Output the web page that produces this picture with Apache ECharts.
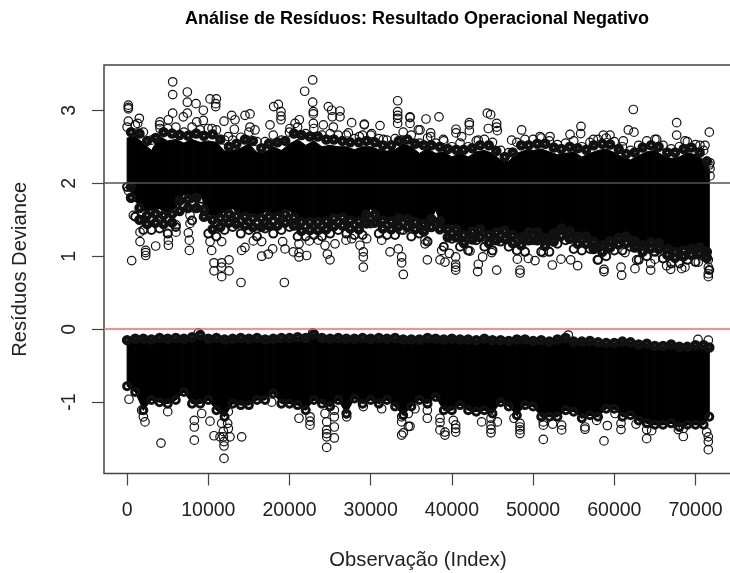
<!DOCTYPE html>
<html>
<head>
<meta charset="utf-8">
<title>Análise de Resíduos</title>
<script src="https://cdn.jsdelivr.net/npm/echarts@6/dist/echarts.min.js"></script>
<style>
html,body{margin:0;padding:0;background:#fff}
#chart{width:730px;height:573px}
</style>
</head>
<body>
<div id="chart"></div>
<script>
var xTicks = [0,10000,20000,30000,40000,50000,60000,70000];
var yTicks = [-1,0,1,2,3];

var bandX = [0,1000,2000,3000,4000,5000,6000,7000,8000,9000,10000,11000,12000,13000,14000,15000,16000,17000,18000,19000,20000,21000,22000,23000,24000,25000,26000,27000,28000,29000,30000,31000,32000,33000,34000,35000,36000,37000,38000,39000,40000,41000,42000,43000,44000,45000,46000,47000,48000,49000,50000,51000,52000,53000,54000,55000,56000,57000,58000,59000,60000,61000,62000,63000,64000,65000,66000,67000,68000,69000,70000,71000,71700];
var upperTop = [2.77,2.80,2.70,2.59,2.80,2.75,2.77,2.70,2.77,2.73,2.75,2.73,2.59,2.59,2.63,2.70,2.57,2.57,2.66,2.59,2.70,2.77,2.68,2.75,2.66,2.68,2.66,2.66,2.61,2.66,2.66,2.61,2.59,2.61,2.70,2.66,2.55,2.62,2.55,2.58,2.50,2.55,2.50,2.58,2.60,2.56,2.45,2.42,2.56,2.60,2.60,2.62,2.58,2.53,2.55,2.58,2.50,2.56,2.60,2.62,2.57,2.50,2.45,2.52,2.58,2.60,2.52,2.47,2.50,2.57,2.53,2.45,2.25];
var upperCoreTop = [2.62,2.64,2.55,2.45,2.64,2.58,2.60,2.55,2.60,2.56,2.58,2.56,2.44,2.45,2.48,2.54,2.42,2.43,2.50,2.45,2.54,2.60,2.52,2.58,2.50,2.52,2.50,2.50,2.46,2.50,2.50,2.46,2.44,2.46,2.54,2.50,2.41,2.47,2.41,2.43,2.36,2.41,2.36,2.43,2.45,2.41,2.32,2.30,2.41,2.45,2.45,2.47,2.43,2.39,2.41,2.43,2.36,2.41,2.45,2.47,2.42,2.36,2.32,2.38,2.43,2.45,2.38,2.34,2.36,2.42,2.39,2.32,2.20];
var upperCoreBottom = [2.00,1.75,1.63,1.63,1.65,1.57,1.67,1.85,1.73,1.85,1.57,1.53,1.61,1.65,1.55,1.59,1.51,1.61,1.55,1.59,1.63,1.50,1.50,1.51,1.49,1.53,1.57,1.52,1.50,1.50,1.65,1.51,1.49,1.49,1.55,1.47,1.50,1.40,1.63,1.33,1.43,1.33,1.28,1.41,1.33,1.28,1.39,1.32,1.27,1.25,1.39,1.24,1.24,1.35,1.39,1.28,1.25,1.27,1.13,1.17,1.25,1.25,1.29,1.12,1.16,1.22,1.13,1.07,1.07,1.11,1.08,1.15,0.95];
var upperBottom = [1.95,1.54,1.36,1.36,1.38,1.31,1.40,1.68,1.49,1.68,1.31,1.27,1.36,1.40,1.31,1.36,1.27,1.38,1.31,1.36,1.40,1.27,1.27,1.29,1.27,1.31,1.36,1.31,1.29,1.29,1.45,1.31,1.29,1.29,1.36,1.27,1.31,1.20,1.45,1.13,1.24,1.13,1.08,1.22,1.13,1.08,1.20,1.13,1.08,1.06,1.22,1.06,1.06,1.17,1.22,1.10,1.08,1.10,0.95,1.00,1.08,1.08,1.13,0.95,1.00,1.06,0.97,0.90,0.90,0.95,0.92,1.00,0.81];
var lowerTop = [-0.15,-0.13,-0.13,-0.14,-0.12,-0.13,-0.12,-0.13,-0.11,-0.08,-0.13,-0.12,-0.14,-0.13,-0.12,-0.13,-0.12,-0.14,-0.13,-0.12,-0.12,-0.11,-0.12,-0.07,-0.12,-0.13,-0.12,-0.13,-0.13,-0.12,-0.13,-0.12,-0.13,-0.12,-0.14,-0.14,-0.14,-0.12,-0.13,-0.14,-0.13,-0.14,-0.14,-0.15,-0.13,-0.15,-0.15,-0.16,-0.14,-0.14,-0.16,-0.15,-0.17,-0.14,-0.12,-0.17,-0.17,-0.16,-0.18,-0.19,-0.19,-0.17,-0.18,-0.21,-0.20,-0.23,-0.23,-0.21,-0.24,-0.24,-0.22,-0.22,-0.25];
var lowerBottom = [-0.78,-0.86,-1.11,-0.97,-1.00,-1.02,-0.97,-0.86,-1.02,-1.02,-0.97,-1.11,-1.20,-1.02,-1.04,-1.04,-0.97,-0.97,-0.88,-1.02,-1.02,-1.04,-1.11,-0.97,-1.02,-1.06,-0.97,-1.155,-0.95,-1.02,-0.97,-1.02,-0.97,-1.06,-1.18,-1.06,-0.97,-1.02,-0.93,-1.11,-1.11,-1.04,-1.11,-1.13,-1.11,-1.155,-1.00,-1.06,-1.18,-1.04,-1.06,-1.20,-1.20,-1.20,-1.11,-1.13,-1.22,-1.18,-1.20,-1.09,-1.09,-1.20,-1.18,-1.25,-1.29,-1.31,-1.31,-1.29,-1.34,-1.31,-1.31,-1.31,-1.20];

// half-open fringe between the solid core and the edge rings
var fringeX = [480,1530,2460,3520,4490,5540,6470,7510,8520,9460,10530,11480,12540,13470,14510,15490,16530,17460,18520,19480,20540,21470,22510,23490,24530,25460,26520,27480,28540,29470,30510,31490,32530,33460,34520,35480,36540,37470,38510,39490,40530,41460,42520,43480,44540,45470,46510,47490,48530,49460,50520,51480,52540,53470,54510,55490,56530,57460,58520,59480,60540,61470,62510,63490,64530,65460,66520,67480,68540,69470,70510,71400];
var fringeTop = [2.70,2.68,2.58,2.62,2.70,2.68,2.66,2.65,2.68,2.65,2.67,2.60,2.50,2.54,2.60,2.58,2.48,2.54,2.56,2.58,2.68,2.66,2.64,2.64,2.60,2.60,2.58,2.56,2.56,2.58,2.56,2.52,2.52,2.58,2.60,2.54,2.52,2.52,2.50,2.47,2.46,2.46,2.48,2.52,2.52,2.44,2.36,2.42,2.52,2.52,2.54,2.54,2.49,2.47,2.50,2.48,2.46,2.52,2.54,2.53,2.47,2.40,2.42,2.49,2.52,2.50,2.42,2.42,2.47,2.49,2.42,2.30];
var fringeLowA = [1.80,1.50,1.44,1.46,1.44,1.46,1.62,1.66,1.66,1.54,1.37,1.40,1.46,1.44,1.42,1.40,1.40,1.42,1.42,1.46,1.42,1.35,1.36,1.36,1.37,1.41,1.42,1.38,1.37,1.45,1.46,1.38,1.37,1.41,1.40,1.37,1.34,1.40,1.37,1.26,1.26,1.18,1.23,1.26,1.18,1.22,1.24,1.18,1.15,1.22,1.22,1.14,1.20,1.28,1.24,1.17,1.17,1.10,1.06,1.12,1.16,1.18,1.12,1.06,1.11,1.10,1.02,0.98,1.00,1.02,1.04,0.98];
var fringeLowB = [1.95,1.66,1.56,1.58,1.56,1.58,1.76,1.78,1.80,1.64,1.50,1.52,1.58,1.55,1.54,1.52,1.52,1.54,1.54,1.58,1.53,1.47,1.47,1.47,1.48,1.52,1.53,1.49,1.48,1.57,1.57,1.49,1.48,1.52,1.51,1.47,1.44,1.51,1.48,1.37,1.37,1.29,1.34,1.37,1.29,1.33,1.35,1.29,1.26,1.33,1.33,1.25,1.31,1.38,1.34,1.27,1.27,1.20,1.15,1.21,1.25,1.27,1.21,1.15,1.19,1.18,1.10,1.06,1.08,1.10,1.12,1.06];

// single circles that stand clear of the band
var upperHigh = [[5612,3.39],[5612,3.215],[7418,3.25],[7418,3.11],[8485,3.09],[10210,3.155],[10990,3.155],[10907,3.05],[10907,3.09],[9389,3.0],[152,3.07],[152,3.04],[152,3.02],[22853,3.415],[21867,3.26],[22853,3.11],[18625,3.08],[18050,3.05],[24782,3.05],[25193,3.0],[26219,2.99],[26219,2.91],[33320,3.13],[33320,2.98],[33320,2.93],[33320,2.89],[33320,2.82],[34840,2.9],[34840,2.82],[27656,2.83],[29216,2.81],[29216,2.8],[31145,2.79],[25275,2.91],[22935,2.98],[22935,2.95],[22935,2.82],[18953,2.98],[18953,2.92],[18953,2.87],[15135,2.95],[14520,2.93],[15135,2.77],[15750,2.73],[12878,2.93],[13288,2.87],[11934,2.85],[13206,2.74],[7418,2.96],[6925,2.91],[5612,2.96],[5078,2.87],[1507,2.89],[152,2.85],[1302,2.82],[4052,2.84],[4052,2.75],[8568,2.84],[9389,2.86],[10456,2.75],[12467,2.64],[17598,2.8],[21211,2.87],[20677,2.82],[20062,2.75],[24166,2.8],[25398,2.77],[27245,2.69],[30119,2.68],[28600,2.64],[31555,2.6],[33813,2.59],[35865,2.73],[38410,2.91],[36809,2.88],[34839,2.91],[36070,2.73],[37384,2.69],[37384,2.64],[38944,2.6],[42146,2.83],[42146,2.72],[42146,2.8],[40504,2.74],[40504,2.69],[41202,2.64],[44363,2.96],[44773,2.94],[44486,2.75],[45512,2.82],[45594,2.72],[45512,2.77],[43254,2.59],[47360,2.59],[48591,2.73],[50849,2.64],[52080,2.64],[54543,2.67],[55898,2.78],[55857,2.68],[57417,2.6],[58648,2.66],[59469,2.66],[61728,2.73],[62425,2.7],[62343,3.01],[61110,2.58],[65216,2.6],[67679,2.83],[67679,2.66],[68705,2.58],[70553,2.52],[71169,2.52],[71702,2.7],[71784,2.28],[71784,2.2],[71784,2.1]];
var upperLow = [[563,0.94],[2287,1.01],[2287,1.05],[2287,1.08],[1589,1.2],[3518,1.14],[5078,1.15],[5078,1.22],[7664,1.08],[7664,1.22],[7541,1.32],[6022,1.33],[6022,1.43],[1589,1.33],[768,1.56],[152,1.9],[7747,1.45],[7747,1.56],[10415,1.08],[11647,1.2],[10210,1.2],[10702,0.91],[10702,0.8],[11647,0.91],[11647,0.85],[12550,0.95],[12550,0.8],[11647,0.72],[14108,1.08],[14520,1.12],[14026,0.64],[19364,0.64],[16572,1.0],[17393,1.03],[17927,1.1],[15546,1.21],[16572,1.2],[19158,1.2],[19446,1.1],[20472,1.06],[21170,0.99],[22114,1.01],[21170,1.17],[21170,1.05],[22443,1.21],[23550,1.22],[24987,0.95],[24660,1.03],[24372,1.15],[25603,1.17],[26958,1.22],[27656,1.24],[29092,0.85],[29092,0.99],[29092,1.06],[28682,1.15],[29503,1.24],[32377,1.06],[31350,1.22],[33813,0.99],[33402,1.1],[33813,0.91],[34019,0.75],[33608,1.36],[36974,0.95],[36686,1.17],[36686,1.22],[38533,0.95],[39149,0.92],[38739,1.08],[39683,1.04],[40463,0.99],[40463,0.89],[40463,0.81],[40463,0.85],[43254,0.89],[43172,0.79],[43788,0.99],[42228,1.07],[45512,0.81],[44897,1.05],[48057,0.96],[49412,0.97],[50233,0.94],[48386,0.81],[48386,0.77],[52367,0.88],[53435,0.96],[54625,0.95],[55487,0.87],[51259,1.05],[57909,0.95],[58730,0.82],[58730,0.79],[60824,0.85],[60906,0.74],[61317,1.05],[62548,0.83],[62754,0.95],[64478,0.81],[64478,0.9],[65011,0.96],[66448,0.87],[66940,0.82],[68295,0.83],[68705,0.85],[70348,0.92],[71579,0.85],[71579,0.76],[71579,0.72],[71579,0.95]];
var lowerLow = [[234,-0.96],[2205,-1.27],[1999,-1.2],[1794,-1.11],[5000,-1.13],[4175,-1.56],[8280,-1.25],[8280,-1.34],[8280,-1.52],[9183,-1.155],[10210,-1.26],[10702,-1.46],[11934,-1.6],[11934,-1.77],[11647,-1.29],[12385,-1.29],[12467,-1.36],[12672,-1.475],[11855,-1.475],[11442,-1.475],[11934,-1.54],[11855,-1.4],[14108,-1.475],[12467,-1.13],[17803,-1.0],[21170,-1.22],[22525,-1.315],[22525,-1.2],[22525,-1.26],[24372,-1.155],[24577,-1.62],[24577,-1.475],[25521,-1.49],[25521,-1.34],[24577,-1.27],[24577,-1.38],[24577,-1.43],[25521,-1.2],[25521,-1.11],[27040,-1.2],[27040,-1.16],[31350,-1.09],[29093,-1.06],[33813,-1.45],[34019,-1.42],[34635,-1.33],[33813,-1.27],[34635,-1.155],[33813,-1.2],[35454,-1.09],[34839,-1.33],[36974,-1.22],[36974,-1.11],[38533,-1.38],[38533,-1.22],[38533,-1.28],[39149,-1.45],[39149,-1.41],[40463,-1.36],[40463,-1.31],[40463,-1.41],[40176,-1.25],[43665,-1.27],[44814,-1.42],[44814,-1.315],[44814,-1.22],[44814,-1.37],[45594,-1.27],[48386,-1.38],[48386,-1.29],[48386,-1.34],[48386,-1.43],[47647,-1.22],[51259,-1.51],[51259,-1.315],[51259,-1.27],[52408,-1.3],[53517,-1.38],[53517,-1.315],[56390,-1.34],[56390,-1.37],[58730,-1.53],[59140,-1.32],[57827,-1.25],[60824,-1.375],[60824,-1.29],[60085,-1.155],[62672,-1.3],[63985,-1.5],[63985,-1.375],[64600,-1.39],[67884,-1.375],[68500,-1.47],[68500,-1.36],[71579,-1.475],[71579,-1.54],[71579,-1.65],[71374,-1.41]];
var lowerHigh = [[70307,-0.14],[71579,-0.15],[54338,-0.08],[8773,-0.05],[22853,-0.05]];

function rings(data, size, width) {
  return {
    type: 'scatter',
    data: data,
    symbol: 'circle',
    symbolSize: size,
    z: 3,
    silent: true,
    itemStyle: { color: 'transparent', borderColor: '#111', borderWidth: width, opacity: 1 }
  };
}

function zip(xs, ys) {
  return ys.map(function (y, i) { return [xs[i], y]; });
}

// black body of a band, one polygon per bin
function body(top, bottom) {
  var rows = [];
  for (var i = 0; i < bandX.length - 1; i++) {
    rows.push([bandX[i], bandX[i + 1], top[i], bottom[i], top[i + 1], bottom[i + 1]]);
  }
  return {
    type: 'custom',
    data: rows,
    z: 2,
    silent: true,
    renderItem: function (params, api) {
      var pts = [
        api.coord([api.value(0), api.value(2)]),
        api.coord([api.value(1), api.value(4)]),
        api.coord([api.value(1), api.value(5)]),
        api.coord([api.value(0), api.value(3)])
      ];
      return {
        type: 'polygon',
        shape: { points: pts },
        style: { fill: '#000', stroke: '#000', lineWidth: 1 }
      };
    }
  };
}

var chart = echarts.init(document.getElementById('chart'), null, { renderer: 'canvas' });
var axisColor = '#444';
var font = '"Liberation Sans", Arial, sans-serif';
var plain = function (v) { return String(v); };

chart.setOption({
  animation: false,
  backgroundColor: '#fff',
  title: {
    text: 'Análise de Resíduos: Resultado Operacional Negativo',
    left: 412,
    top: 5,
    textAlign: 'center',
    textStyle: { fontFamily: font, fontSize: 18, fontWeight: 'bold', color: '#000' }
  },
  grid: {
    left: 104, top: 65, right: -10, bottom: 99.5,
    outerBoundsMode: 'none',
    show: true, borderColor: axisColor, borderWidth: 1.5, backgroundColor: 'transparent'
  },
  xAxis: {
    type: 'value',
    min: -2845,
    max: 75480,
    name: 'Observação (Index)',
    nameLocation: 'middle',
    nameGap: 77,
    nameTextStyle: { fontFamily: font, fontSize: 20.2, color: '#222', padding: [0, 8, 0, 0] },
    splitLine: { show: false },
    axisLine: { show: false, onZero: false },
    axisTick: { show: true, length: 12, customValues: xTicks, lineStyle: { color: axisColor, width: 1.2 } },
    axisLabel: { customValues: xTicks, formatter: plain, margin: 27, fontFamily: font, fontSize: 19.5, color: '#222', showMinLabel: true, showMaxLabel: true }
  },
  yAxis: {
    type: 'value',
    min: -1.977,
    max: 3.62,
    name: 'Resíduos Deviance',
    nameLocation: 'middle',
    nameGap: 74,
    nameTextStyle: { fontFamily: font, fontSize: 20.2, color: '#222' },
    splitLine: { show: false },
    axisLine: { show: false, onZero: false },
    axisTick: { show: true, length: 12, customValues: yTicks, lineStyle: { color: axisColor, width: 1.2 } },
    axisLabel: { customValues: yTicks, formatter: plain, rotate: 90, margin: 24, fontFamily: font, fontSize: 19.5, color: '#222' }
  },
  series: [
    {
      type: 'line',
      data: [],
      z: 1,
      markLine: {
        silent: true, symbol: 'none', animation: false, label: { show: false },
        lineStyle: { color: '#555', width: 1.5, type: 'solid' },
        data: [{ yAxis: 2 }]
      }
    },
    body(upperCoreTop, upperCoreBottom),
    body(lowerTop, lowerBottom),
    rings(zip(fringeX, fringeTop), 6, 4.5),
    rings(zip(fringeX, fringeLowA), 6, 4.5),
    rings(zip(fringeX, fringeLowB), 6, 4.5),
    rings(zip(bandX, upperTop), 8.5, 1.2),
    rings(zip(bandX, upperBottom), 8, 2),
    rings(zip(bandX, lowerTop), 6, 4.5),
    rings(zip(bandX, lowerBottom), 7, 3),
    rings(upperHigh, 8.5, 1.2),
    rings(upperLow, 8.5, 1.2),
    rings(lowerLow, 8.5, 1.2),
    rings(lowerHigh, 8.5, 1.2),
    {
      type: 'line',
      data: [],
      z: 5,
      markLine: {
        silent: true, symbol: 'none', animation: false, label: { show: false },
        lineStyle: { color: '#f46a6a', width: 1.6, type: 'solid' },
        data: [{ yAxis: 0 }]
      }
    }
  ]
});
</script>
</body>
</html>
